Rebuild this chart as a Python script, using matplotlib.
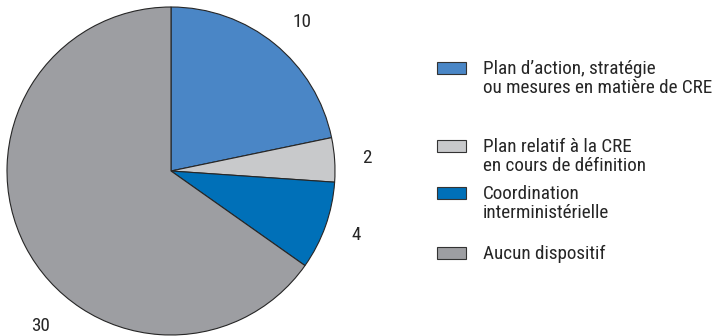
import matplotlib
matplotlib.use('Agg')
import numpy as np
from matplotlib import pyplot as plt
from matplotlib.patches import Rectangle

# counts per category, in pie order (clockwise from 12 o'clock)
categories = ['Plan d\u2019action, strat\u00e9gie\nou mesures en mati\u00e8re de CRE',
              'Plan relatif \u00e0 la CRE\nen cours de d\u00e9finition',
              'Coordination\ninterminist\u00e9rielle',
              'Aucun dispositif']
counts = [10, 2, 4, 30]
colours = ['#4a86c6', '#c8c9cb', '#0070b8', '#9d9ea2']

FONT = ['Roboto Condensed', 'DejaVu Sans']
INK = '#262626'
FS = 13.8

fig = plt.figure(figsize=(7.18, 3.36), dpi=100)

# pie: centre at ~(171,171) px, radius ~164 px
ax = fig.add_axes([7/718, 1/336, 328/718, 328/336])
wedges, texts = ax.pie(counts, colors=colours, startangle=90, counterclock=False,
                       labels=[str(c) for c in counts], labeldistance=1.17,
                       wedgeprops=dict(edgecolor=INK, linewidth=0.8),
                       textprops=dict(fontsize=FS, family=FONT, color=INK))
ax.set_xlim(-1, 1)
ax.set_ylim(-1, 1)
ax.set_aspect('equal')

# the big slice's label sits lower-left, near the bottom of the circle
ang = np.deg2rad(-128)
texts[3].set_position((1.2*np.cos(ang), 1.2*np.sin(ang)))

# hand-built legend, one text per line so baselines are exact
rows_y = [74, 152, 199, 259]  # baseline of first text line, px from top
line_gap = 19
for lab, col, yb in zip(categories, colours, rows_y):
    top = yb - 12
    fig.add_artist(Rectangle((437/718, 1 - (top + 12)/336), 29/718, 12/336,
                             transform=fig.transFigure, facecolor=col,
                             edgecolor='#333333', linewidth=0.8))
    for i, line in enumerate(lab.split('\n')):
        fig.text(483/718, 1 - (yb + i*line_gap)/336, line, fontsize=FS, family=FONT,
                 color=INK, va='baseline', ha='left')

fig.savefig('out.png', dpi=100)
